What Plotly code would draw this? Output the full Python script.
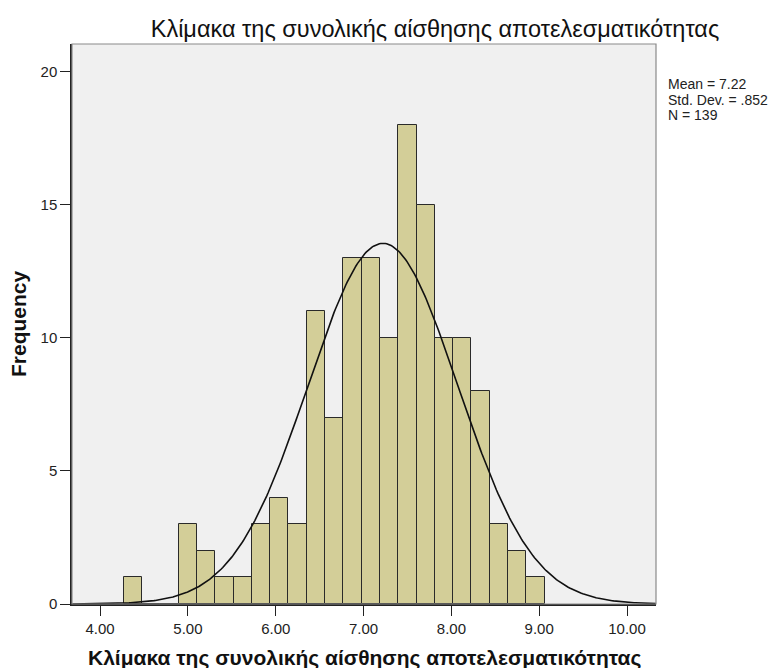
import numpy as np
import plotly.graph_objects as go

# Histogram of the overall self-efficacy scale (bins read as counts)
bin_start = 4.27
bin_width = 0.2083
counts = [1, 0, 0, 3, 2, 1, 1, 3, 4, 3, 11, 7, 13, 13, 10, 18, 15, 10, 10, 8, 3, 2, 1]

mean = 7.22
std_dev = 0.852
n_total = 139

x_ticks = [4, 5, 6, 7, 8, 9, 10]
x_tick_labels = ["4.00", "5.00", "6.00", "7.00", "8.00", "9.00", "10.00"]
y_ticks = [0, 5, 10, 15, 20]

title_text = "Κλίμακα της συνολικής αίσθησης αποτελεσματικότητας"
y_title = "Frequency"
stats_lines = ["Mean = 7.22", "Std. Dev. = .852", "N = 139"]

x_range = [3.68, 10.33]
y_range = [0, 21.05]

centers = [bin_start + (i + 0.5) * bin_width for i in range(len(counts))]

# Normal curve scaled to counts per bin
xs = np.linspace(x_range[0], x_range[1], 400)
ys = n_total * bin_width / (std_dev * np.sqrt(2 * np.pi)) * np.exp(-0.5 * ((xs - mean) / std_dev) ** 2)

font_family = "Liberation Sans, Arial, sans-serif"
dark = "#222222"

fig = go.Figure()
fig.add_trace(go.Bar(
    x=centers, y=counts, width=bin_width,
    marker=dict(color="#D3CE98", line=dict(color="#2a2a2a", width=1)),
    hoverinfo="skip",
))
fig.add_trace(go.Scatter(
    x=xs, y=ys, mode="lines",
    line=dict(color="#111111", width=1.6),
    hoverinfo="skip",
))

# Summary statistics, one line per annotation for tight spacing
annotations = [
    dict(
        text=line, xref="paper", yref="paper", x=1, y=1,
        xshift=10, yshift=-40 - 15.5 * i,
        xanchor="left", yanchor="middle", align="left", showarrow=False,
        font=dict(size=14, color=dark),
    )
    for i, line in enumerate(stats_lines)
]
# Axis titles
annotations.append(dict(
    text="<b>" + title_text + "</b>", xref="paper", yref="paper",
    x=0.5, y=0, yshift=-54, xanchor="center", yanchor="middle",
    showarrow=False, font=dict(size=21, color="#111111"),
))
annotations.append(dict(
    text="<b>" + y_title + "</b>", xref="paper", yref="paper",
    x=0, y=0.5, xshift=-54, xanchor="center", yanchor="middle",
    textangle=-90, showarrow=False, font=dict(size=21, color="#111111"),
))

fig.update_layout(
    width=776, height=668,
    margin=dict(l=72, r=120, t=44, b=64),
    paper_bgcolor="white",
    plot_bgcolor="#F0F0F0",
    showlegend=False,
    bargap=0,
    font=dict(family=font_family, color=dark, size=14.5),
    title=dict(
        text=title_text,
        x=435 / 776, xanchor="center", xref="container",
        y=1 - 29 / 668, yanchor="middle", yref="container",
        font=dict(size=23.5, color="#111111", family=font_family),
    ),
    xaxis=dict(
        range=x_range, tickvals=x_ticks, ticktext=x_tick_labels,
        showgrid=False, zeroline=False,
        showline=True, linecolor=dark, linewidth=1.5,
        ticks="outside", ticklen=10, tickcolor=dark,
        tickfont=dict(size=15, color=dark),
    ),
    yaxis=dict(
        range=y_range, tickvals=y_ticks,
        showgrid=False, zeroline=False,
        showline=True, linecolor=dark, linewidth=1.5,
        ticks="outside", ticklen=10, tickcolor=dark,
        tickfont=dict(size=15, color=dark),
    ),
    shapes=[dict(
        type="rect", xref="paper", yref="paper", x0=0, y0=0, x1=1, y1=1,
        line=dict(color="#8a8a8a", width=1.2), layer="above",
    )],
    annotations=annotations,
)

fig.write_html("out.html")
